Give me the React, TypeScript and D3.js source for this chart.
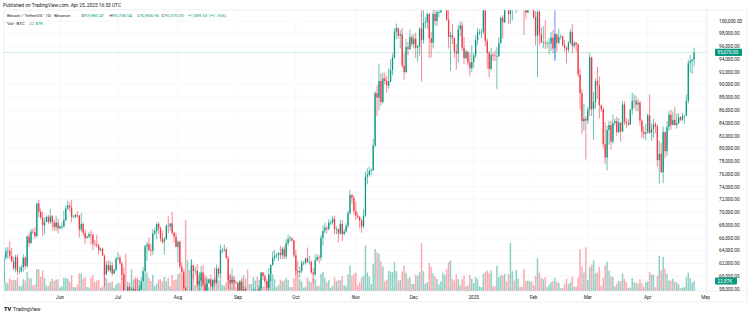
import React from "react";
import * as d3 from "d3";

const width = 750;
const height = 316;
const startDay = Date.UTC(2024, 4, 3);
const lastPrice = 95.07;
const lastVolume = 22.87;
const markerDay = Date.UTC(2025, 1, 12);
const markerLow = 93.7;

// prices in thousands USDT, volume in thousands BTC, one value per day from May 3 2024
const opens = [
  59.1,62.9,63.9,64.0,63.2,62.3,61.2,63.0,60.8,60.8,61.4,62.9,61.6,66.2,65.2,67.0,66.9,66.3,71.4,70.1,69.2,68.0,68.5,69.3,68.5,69.4,68.4,67.7,68.4,
  67.5,67.8,67.8,68.8,70.6,71.1,70.8,69.3,69.3,69.6,69.5,67.3,68.2,66.8,66.0,66.2,66.6,66.5,65.1,65.0,64.8,64.1,64.3,63.2,60.3,61.8,60.9,61.7,60.4,61.0,
  62.8,62.9,62.0,60.2,57.0,56.7,58.3,55.8,56.7,58.0,57.7,57.3,57.9,59.2,60.8,64.7,65.0,64.1,64.0,66.7,67.1,68.2,67.5,65.9,65.4,65.8,67.9,67.8,68.3,66.8,66.2,
  64.6,65.4,61.5,60.7,58.2,54.0,56.0,55.1,61.7,60.8,60.9,58.7,59.3,60.6,58.7,57.5,58.9,59.5,58.4,59.4,59.0,61.2,60.4,64.1,64.1,64.2,62.8,59.4,59.0,59.4,59.1,
  59.0,57.3,59.1,57.5,58.0,56.2,54.0,54.2,54.9,57.0,57.6,57.3,58.1,60.6,60.0,59.2,58.2,60.3,61.8,62.9,63.2,63.3,63.6,63.3,64.3,63.1,65.2,65.8,65.9,65.6,
  63.3,60.8,60.6,60.8,62.1,62.1,62.8,62.2,62.2,60.6,60.3,62.5,63.0,62.9,66.0,67.1,67.6,67.4,68.4,68.4,69.0,67.4,67.4,66.7,68.2,66.6,67.0,67.9,69.9,72.7,72.3,
  70.2,69.5,69.3,68.7,67.8,69.4,75.6,75.9,76.5,76.6,80.5,88.7,88.0,90.6,87.3,91.0,90.6,89.9,90.5,92.3,94.3,98.3,98.9,97.7,97.9,93.0,92.0,95.9,95.6,97.5,
  96.4,97.2,95.8,96.0,98.8,97.0,99.7,99.8,101.1,97.3,96.6,101.1,100.0,101.4,101.4,104.5,106.1,106.1,100.2,97.5,97.8,97.3,95.2,94.9,98.7,99.3,95.8,94.2,95.2,93.5,92.6,
  93.6,94.6,97.0,98.2,98.2,98.3,102.1,96.9,95.0,92.5,94.7,94.6,94.5,94.5,96.5,100.5,99.8,104.5,104.4,101.1,102.0,106.1,103.7,104.0,104.8,104.7,102.7,102.1,101.3,103.7,104.7,
  102.4,100.6,97.7,101.4,97.9,96.6,96.6,96.5,96.5,96.5,97.4,95.7,97.9,96.6,97.5,97.6,96.2,95.8,95.5,96.6,98.3,96.1,96.6,96.3,91.6,88.7,84.3,84.7,
  84.4,86.1,94.3,86.2,87.3,90.6,89.9,86.8,86.2,80.7,78.6,82.9,83.7,81.1,84.0,84.3,82.6,84.1,82.7,86.9,84.2,84.0,83.8,86.1,87.5,87.5,86.9,87.2,84.4,82.6,82.3,
  82.5,85.2,82.5,83.1,83.8,83.5,78.2,79.2,76.3,82.6,79.6,83.4,85.3,83.7,84.5,83.7,84.0,84.9,84.5,85.1,85.2,87.5,93.4,93.7,93.98,
];

const highs = [
  63.3,64.5,64.6,65.5,64.4,63.0,63.4,63.5,61.5,61.8,63.4,63.1,66.4,66.8,67.4,67.5,67.7,71.5,71.9,70.6,70.1,69.2,69.5,69.6,70.6,69.6,68.9,69.5,69.0,
  67.9,68.4,70.3,71.1,71.8,71.6,72.0,69.6,69.8,70.2,69.6,69.9,68.4,67.3,66.4,66.9,67.3,66.6,65.7,66.5,65.1,64.5,64.5,63.4,62.3,62.5,62.4,62.2,61.2,63.0,
  63.8,63.3,62.3,60.5,57.5,58.5,58.5,58.2,58.3,59.5,59.5,58.5,59.9,61.4,64.9,65.4,66.1,65.1,67.4,67.6,68.4,68.5,67.8,67.1,66.1,68.2,69.4,68.3,70.1,67.0,66.8,
  65.6,65.6,62.2,61.1,58.3,57.0,57.7,62.7,61.8,61.5,61.9,60.7,61.6,61.8,59.8,59.9,59.7,60.3,59.6,61.4,61.8,61.4,64.9,64.5,65.0,64.5,63.2,60.2,61.2,59.8,59.4,
  59.1,59.4,59.8,58.5,58.3,57.0,54.9,55.3,58.1,58.0,57.9,58.6,60.7,60.6,60.4,59.2,61.3,61.8,63.9,64.1,63.6,63.8,64.8,64.6,64.8,65.8,66.5,66.3,66.1,65.7,
  64.1,62.4,61.5,62.5,62.4,62.9,64.5,63.2,62.5,61.3,63.4,63.5,63.3,66.5,67.9,68.4,67.9,68.9,68.7,69.4,69.5,67.8,67.5,68.8,68.8,67.4,68.3,70.3,73.6,72.9,72.7,
  71.6,70.0,69.4,69.0,70.5,76.4,76.9,77.2,76.9,81.5,89.0,89.9,93.3,91.8,91.9,91.9,91.4,92.6,94.0,94.9,98.9,99.6,99.0,98.6,98.9,94.9,97.2,96.7,98.7,97.9,
  97.9,98.2,96.3,99.0,104.1,102.0,100.6,101.3,101.2,98.3,101.9,102.5,101.9,102.7,105.2,107.8,108.4,106.5,102.8,98.3,99.5,97.4,96.4,99.4,99.9,99.9,97.5,95.5,95.2,94.9,96.2,
  95.0,97.8,98.9,98.7,98.8,102.5,102.7,97.3,95.3,95.8,95.0,95.4,95.9,97.4,100.7,100.9,105.9,104.9,106.3,109.6,107.2,106.3,106.9,107.1,105.3,105.5,103.2,103.8,104.8,106.5,106.0,
  102.8,101.5,102.5,101.7,99.0,99.2,100.1,96.9,97.3,98.3,98.6,98.1,98.0,98.8,97.9,97.7,97.0,96.0,96.9,98.8,99.5,96.9,96.7,96.5,92.5,89.3,87.0,85.1,
  86.6,95.0,94.4,88.9,91.0,92.8,91.3,86.9,86.5,84.1,83.6,84.4,84.4,85.3,84.7,85.0,84.8,84.1,87.5,87.4,84.8,84.6,86.2,88.8,88.5,88.3,87.8,87.5,84.6,83.5,83.9,
  85.5,88.5,83.9,84.7,84.2,83.8,81.2,80.9,83.5,82.7,84.3,85.9,86.1,85.8,86.5,85.5,85.5,85.1,85.6,85.3,88.5,93.9,94.7,94.0,95.76,
];

const lows = [
  58.8,62.6,62.8,62.7,62.3,60.9,60.6,60.2,60.4,60.6,60.7,61.1,61.3,64.6,65.1,66.6,65.9,66.1,69.2,68.9,66.3,66.6,68.5,68.2,68.2,67.3,67.1,67.1,66.7,
  67.4,67.3,67.6,68.6,70.4,70.1,68.5,69.2,69.1,69.2,66.1,66.9,66.3,65.1,65.9,66.0,65.0,64.1,64.7,64.5,63.4,63.9,63.2,58.4,60.2,60.7,60.6,60.1,60.4,60.8,
  62.5,61.8,59.4,56.8,53.5,56.0,55.7,54.3,56.3,57.2,57.0,56.5,57.8,59.2,60.6,62.4,63.9,63.2,63.3,66.4,65.8,66.6,65.4,65.1,63.4,65.7,66.7,67.1,66.5,65.3,64.5,
  62.2,61.2,59.8,57.2,49.0,53.9,54.6,54.7,59.6,60.3,58.3,57.6,58.4,58.4,56.1,57.1,58.8,58.4,57.8,58.6,58.8,59.8,60.3,63.6,63.8,62.8,58.0,57.9,58.8,57.9,58.7,
  57.2,57.1,57.4,55.6,55.7,52.6,53.7,53.6,54.6,56.4,55.5,57.3,57.6,59.4,58.7,57.5,57.6,59.2,61.6,62.4,62.8,62.4,62.7,62.7,62.7,62.7,64.8,65.4,65.4,62.9,
  60.2,60.0,59.8,60.5,61.7,61.8,62.1,61.8,60.3,58.9,60.0,62.4,62.0,62.4,64.8,66.7,66.7,67.2,68.0,68.1,66.6,66.6,65.3,66.5,65.5,66.4,66.8,67.5,69.7,71.4,69.7,
  68.8,69.0,67.5,66.8,67.5,69.3,74.4,75.6,75.8,76.5,80.2,85.1,86.1,86.7,87.1,90.1,88.8,89.4,90.4,91.5,94.1,97.2,97.2,95.7,92.6,90.8,91.8,94.6,95.4,96.0,
  95.7,94.2,93.6,94.6,90.5,96.4,98.9,98.7,94.2,94.3,95.7,99.3,99.2,100.6,101.2,103.3,105.3,100.0,95.7,92.2,96.4,94.2,92.4,93.4,97.6,95.4,93.3,94.0,93.0,91.3,92.0,
  92.7,94.2,96.2,97.8,97.3,97.9,96.1,92.5,91.2,92.2,93.8,93.7,89.3,94.3,96.5,97.3,99.7,102.3,99.5,99.6,100.1,103.3,101.3,102.8,104.1,102.5,97.8,100.3,101.3,103.3,101.6,
  100.3,96.2,91.2,96.2,96.6,95.7,95.6,95.7,94.7,95.3,94.9,94.1,95.2,96.3,97.1,96.0,95.2,93.4,95.1,96.4,94.9,95.7,95.2,91.2,86.1,82.3,82.8,78.3,
  83.9,85.1,85.1,81.4,86.3,87.8,84.7,85.8,80.0,77.5,76.6,80.6,79.9,80.8,83.6,82.0,82.4,81.1,82.6,83.7,83.2,83.6,83.7,85.3,86.3,85.9,85.8,83.6,81.6,81.6,81.3,
  82.4,82.3,81.2,81.7,82.4,77.2,74.5,76.2,74.6,78.5,78.9,82.8,83.0,83.7,83.6,83.1,83.9,84.3,84.3,83.9,85.1,87.1,91.9,91.7,92.86,
];

const closes = [
  62.9,63.9,64.0,63.2,62.3,61.2,63.0,60.8,60.8,61.4,62.9,61.6,66.2,65.2,67.0,66.9,66.3,71.4,70.1,69.2,68.0,68.5,69.3,68.5,69.4,68.4,67.7,68.4,67.5,
  67.8,67.8,68.8,70.6,71.1,70.8,69.3,69.3,69.6,69.5,67.3,68.2,66.8,66.0,66.2,66.6,66.5,65.1,65.0,64.8,64.1,64.3,63.2,60.3,61.8,60.9,61.7,60.4,61.0,62.8,
  62.9,62.0,60.2,57.0,56.7,58.3,55.8,56.7,58.0,57.7,57.3,57.9,59.2,60.8,64.7,65.0,64.1,64.0,66.7,67.1,68.2,67.5,65.9,65.4,65.8,67.9,67.8,68.3,66.8,66.2,64.6,
  65.4,61.5,60.7,58.2,54.0,56.0,55.1,61.7,60.8,60.9,58.7,59.3,60.6,58.7,57.5,58.9,59.5,58.4,59.4,59.0,61.2,60.4,64.1,64.1,64.2,62.8,59.4,59.0,59.4,59.1,59.0,
  57.3,59.1,57.5,58.0,56.2,54.0,54.2,54.9,57.0,57.6,57.3,58.1,60.6,60.0,59.2,58.2,60.3,61.8,62.9,63.2,63.3,63.6,63.3,64.3,63.1,65.2,65.8,65.9,65.6,63.3,
  60.8,60.6,60.8,62.1,62.1,62.8,62.2,62.2,60.6,60.3,62.5,63.0,62.9,66.0,67.1,67.6,67.4,68.4,68.4,69.0,67.4,67.4,66.7,68.2,66.6,67.0,67.9,69.9,72.7,72.3,70.2,
  69.5,69.3,68.7,67.8,69.4,75.6,75.9,76.5,76.6,80.5,88.7,88.0,90.6,87.3,91.0,90.6,89.9,90.5,92.3,94.3,98.3,98.9,97.7,97.9,93.0,92.0,95.9,95.6,97.5,96.4,
  97.2,95.8,96.0,98.8,97.0,99.7,99.8,101.1,97.3,96.6,101.1,100.0,101.4,101.4,104.5,106.1,106.1,100.2,97.5,97.8,97.3,95.2,94.9,98.7,99.3,95.8,94.2,95.2,93.5,92.6,93.6,
  94.6,97.0,98.2,98.2,98.3,102.1,96.9,95.0,92.5,94.7,94.6,94.5,94.5,96.5,100.5,99.8,104.5,104.4,101.1,102.0,106.1,103.7,104.0,104.8,104.7,102.7,102.1,101.3,103.7,104.7,102.4,
  100.6,97.7,101.4,97.9,96.6,96.6,96.5,96.5,96.5,97.4,95.7,97.9,96.6,97.5,97.6,96.2,95.8,95.5,96.6,98.3,96.1,96.6,96.3,91.6,88.7,84.3,84.7,84.4,
  86.1,94.3,86.2,87.3,90.6,89.9,86.8,86.2,80.7,78.6,82.9,83.7,81.1,84.0,84.3,82.6,84.1,82.7,86.9,84.2,84.0,83.8,86.1,87.5,87.5,86.9,87.2,84.4,82.6,82.3,82.5,
  85.2,82.5,83.1,83.8,83.5,78.2,79.2,76.3,82.6,79.6,83.4,85.3,83.7,84.5,83.7,84.0,84.9,84.5,85.1,85.2,87.5,93.4,93.7,93.98,95.07,
];

const volumes = [
  43,20,18,29,25,26,25,31,12,11,27,24,44,30,29,13,15,50,50,32,47,29,12,12,22,28,23,26,27,
  8,11,30,30,28,21,36,9,8,15,41,40,28,32,9,8,30,36,21,24,25,8,11,54,29,19,19,22,8,15,
  19,18,30,54,85,21,19,49,27,32,30,25,13,22,42,42,30,23,37,12,17,26,27,22,32,23,30,11,37,25,26,
  38,42,32,31,162,70,49,71,39,13,22,38,32,30,37,28,9,13,23,31,32,24,39,14,12,20,37,40,33,35,9,
  13,23,26,37,28,49,16,16,32,24,33,25,30,10,11,27,32,37,38,27,9,14,26,23,24,30,25,9,9,29,
  44,35,27,22,8,10,31,22,20,30,27,11,12,39,44,30,20,25,8,12,31,23,26,25,34,13,12,38,58,35,40,
  42,13,20,31,35,104,42,33,16,62,96,88,85,68,56,22,26,46,44,43,66,46,24,25,45,58,42,28,32,16,
  16,38,35,43,110,45,17,20,64,55,40,33,27,15,22,42,37,51,66,70,27,24,38,27,13,27,35,11,13,36,28,
  18,32,27,11,9,39,44,47,40,47,11,11,58,32,37,35,40,22,39,110,45,24,48,28,9,10,50,23,24,22,22,
  13,35,75,42,30,27,32,9,15,20,23,30,21,19,6,7,17,28,16,20,33,10,10,31,95,56,42,100,
  25,55,60,70,41,43,55,12,30,59,67,47,34,32,11,17,23,22,40,28,21,7,8,30,20,19,17,27,17,10,20,
  21,43,37,38,9,35,80,48,78,51,39,24,24,28,21,20,15,6,8,9,31,42,29,20,22.87,
];

const monthLabels = ["Jun", "Jul", "Aug", "Sep", "Oct", "Nov", "Dec", "2025", "Feb", "Mar", "Apr", "May"];

const up = "#089981";
const down = "#f23645";
const upVol = "rgba(8,153,129,0.45)";
const downVol = "rgba(242,54,69,0.42)";
const grid = "#f0f3fa";
const border = "#e0e3eb";
const textColor = "#131722";
const font = "Roboto, 'Liberation Sans', sans-serif";

const pane = { left: 4, top: 10, right: 707, bottom: 291 };

export default function App() {
  const x = d3.scaleUtc()
    .domain([new Date(Date.UTC(2024, 5, 1)), new Date(Date.UTC(2025, 4, 1))])
    .range([60, 705.7]);
  const y = d3.scaleLinear().domain([58, 100]).range([289, 21]);
  const vy = d3.scaleLinear().domain([0, lastVolume]).range([pane.bottom, pane.bottom - 10]);

  const days = closes.map((_, i) => d3.utcDay.offset(new Date(startDay), i));
  const priceTicks = d3.range(58, 100.1, 2);
  const monthTicks = d3.utcMonths(new Date(Date.UTC(2024, 5, 1)), new Date(Date.UTC(2025, 4, 2)));
  const fmt = d3.format(",.2f");

  const bodyW = 1.3;
  const volW = 1.5;

  return (
    <div style={{ position: "fixed", left: 0, top: 0 }}>
      <svg width={width} height={height} style={{ display: "block", background: "#fff" }} fontFamily={font}>
        <defs>
          <clipPath id="pane">
            <rect x={pane.left} y={pane.top} width={pane.right - pane.left} height={pane.bottom - pane.top} />
          </clipPath>
        </defs>

        {/* grid */}
        <g stroke={grid} strokeWidth={0.7}>
          {priceTicks.map((t) => (
            <line key={t} x1={pane.left} x2={pane.right} y1={y(t)} y2={y(t)} />
          ))}
          {monthTicks.map((m, i) => (
            <line key={i} x1={x(m)} x2={x(m)} y1={pane.top} y2={pane.bottom} />
          ))}
        </g>

        <g clipPath="url(#pane)">
          {/* volume */}
          {volumes.map((v, i) => (
            <rect
              key={i}
              x={x(days[i]) - volW / 2}
              y={vy(v)}
              width={volW}
              height={pane.bottom - vy(v)}
              fill={closes[i] >= opens[i] ? upVol : downVol}
            />
          ))}
          {/* candles */}
          {closes.map((c, i) => {
            const o = opens[i];
            const col = c >= o ? up : down;
            const cx = x(days[i]);
            const top = y(Math.max(o, c));
            const h = Math.max(0.6, Math.abs(y(o) - y(c)));
            return (
              <g key={i}>
                <line x1={cx} x2={cx} y1={y(highs[i])} y2={y(lows[i])} stroke={col} strokeWidth={0.6} />
                <rect x={cx - bodyW / 2} y={top} width={bodyW} height={h} fill={col} />
              </g>
            );
          })}
          {/* marker */}
          <line
            x1={x(new Date(markerDay))}
            x2={x(new Date(markerDay))}
            y1={pane.top}
            y2={y(markerLow)}
            stroke="#2962ff"
            strokeWidth={0.7}
          />
          {/* last price line */}
          <line x1={pane.left} x2={pane.right} y1={y(lastPrice)} y2={y(lastPrice)} stroke={up} strokeOpacity={0.35} strokeWidth={0.6} />
        </g>

        {/* pane borders */}
        <g stroke={border} strokeWidth={0.6} fill="none">
          <rect x={pane.left} y={pane.top} width={747 - pane.left} height={302 - pane.top} />
          <line x1={pane.left} x2={747} y1={pane.bottom} y2={pane.bottom} />
          <line x1={pane.right} x2={pane.right} y1={pane.top} y2={302} />
        </g>

        {/* price axis */}
        <g fontSize={4.7} fill={textColor}>
          {priceTicks.map((t) => (
            <text key={t} x={719} y={y(t)} dy="0.35em">{fmt(t * 1000)}</text>
          ))}
        </g>
        <rect x={715} y={y(lastPrice) - 3.6} width={27} height={7.2} fill={up} rx={0.8} />
        <text x={717.5} y={y(lastPrice)} dy="0.35em" fontSize={4.7} fill="#fff">{fmt(lastPrice * 1000)}</text>
        <rect x={715} y={vy(lastVolume) - 3.6} width={22} height={7.2} fill={up} rx={0.8} />
        <text x={717.5} y={vy(lastVolume)} dy="0.35em" fontSize={4.7} fill="#fff">{lastVolume}K</text>

        {/* time axis */}
        <g fontSize={4.7} fill={textColor} textAnchor="middle">
          {monthTicks.map((m, i) => (
            <text key={i} x={x(m)} y={297} dy="0.35em">{monthLabels[i]}</text>
          ))}
        </g>

        {/* header */}
        <text x={3} y={5.8} dy="0.35em" fontSize={4.8} fill={textColor}>
          Published on TradingView.com, Apr 25, 2025 16:33 UTC
        </text>
        <g fontSize={4.4} fill={textColor}>
          <text x={7} y={15.7} dy="0.35em">Bitcoin / TetherUS · 1D · Binance</text>
          <text x={81.5} y={15.7} dy="0.35em">O<tspan fill={up}>93,980.47</tspan></text>
          <text x={109.5} y={15.7} dy="0.35em">H<tspan fill={up}>95,758.04</tspan></text>
          <text x={137.5} y={15.7} dy="0.35em">L<tspan fill={up}>92,855.96</tspan></text>
          <text x={161.5} y={15.7} dy="0.35em">C<tspan fill={up}>95,070.00</tspan></text>
          <text x={188} y={15.7} dy="0.35em" fill={up}>+1,089.53</text>
          <text x={209} y={15.7} dy="0.35em" fill={up}>(+1.16%)</text>
          <text x={7} y={23.3} dy="0.35em">Vol · BTC</text>
          <text x={29.3} y={23.3} dy="0.35em" fill={up}>22.87K</text>
        </g>

        {/* footer logo */}
        <text x={4} y={309} dy="0.35em" fontSize={5.5} fontWeight={900} fill={textColor}>TV</text>
        <text x={13} y={309} dy="0.35em" fontSize={5} fill={textColor}>TradingView</text>
      </svg>
    </div>
  );
}
